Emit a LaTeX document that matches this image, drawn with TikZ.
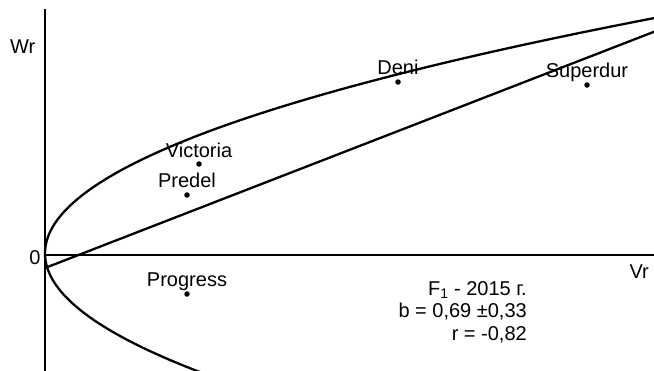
\documentclass[tikz,border=0pt]{standalone}
\usepackage{fontspec}
\setmainfont{Liberation Sans}
\begin{document}
\begin{tikzpicture}[x=1pt,y=-1pt,
  line/.style={line width=2.3pt},
  dot/.style={circle,fill=black,inner sep=0pt,minimum size=5.5pt},
  lbl/.style={anchor=base,inner sep=0pt,font=\fontsize{20}{22}\selectfont},
  txt/.style={inner sep=0pt,font=\fontsize{20}{22}\selectfont}]
\useasboundingbox (0,0) rectangle (654,370);
\clip (0,0) rectangle (654,370);
% axes
\coordinate (ytop) at (45,9);
\coordinate (ybot) at (45,372);
\coordinate (xl) at (45,255);
\coordinate (xr) at (656,255);
\draw[line] (ytop) -- (ybot);
\draw[line] (xl) -- (xr);
% regression line
\coordinate (ra) at (45,268);
\coordinate (rb) at (656,31);
\draw[line] (ra) -- (rb);
% confidence curve (sideways parabola)
\draw[line] plot[domain=-242:125,samples=120,variable=\t] ({45+1.1*(\t/10)*(\t/10)},{253.4+\t});
% axis labels
\node[txt,anchor=base west] (wr) at (10,53) {Wr};
\node[txt,anchor=base east] (vr) at (649,278) {Vr};
\node[txt,anchor=base] (zero) at (35,264) {0};
% points
\node[dot] (victoria) at (199,164) {};
\node[dot] (predel) at (187,195) {};
\node[dot] (deni) at (398,82) {};
\node[dot] (superdur) at (587,85) {};
\node[dot] (progress) at (187,294) {};
\node[lbl] (lvictoria) at (199,157) {Victoria};
\node[lbl] (lpredel) at (187,187) {Predel};
\node[lbl] (ldeni) at (398,74) {Deni};
\node[lbl] (lsuperdur) at (587,77) {Superdur};
\node[lbl] (lprogress) at (187,286) {Progress};
% statistics
\node[txt,anchor=base east] (s1) at (527,295) {F\textsubscript{1} - 2015 г.};
\node[txt,anchor=base east] (s2) at (527,317) {b = 0,69 ±0,33};
\node[txt,anchor=base east] (s3) at (527,340) {r = -0,82};
\end{tikzpicture}
\end{document}
